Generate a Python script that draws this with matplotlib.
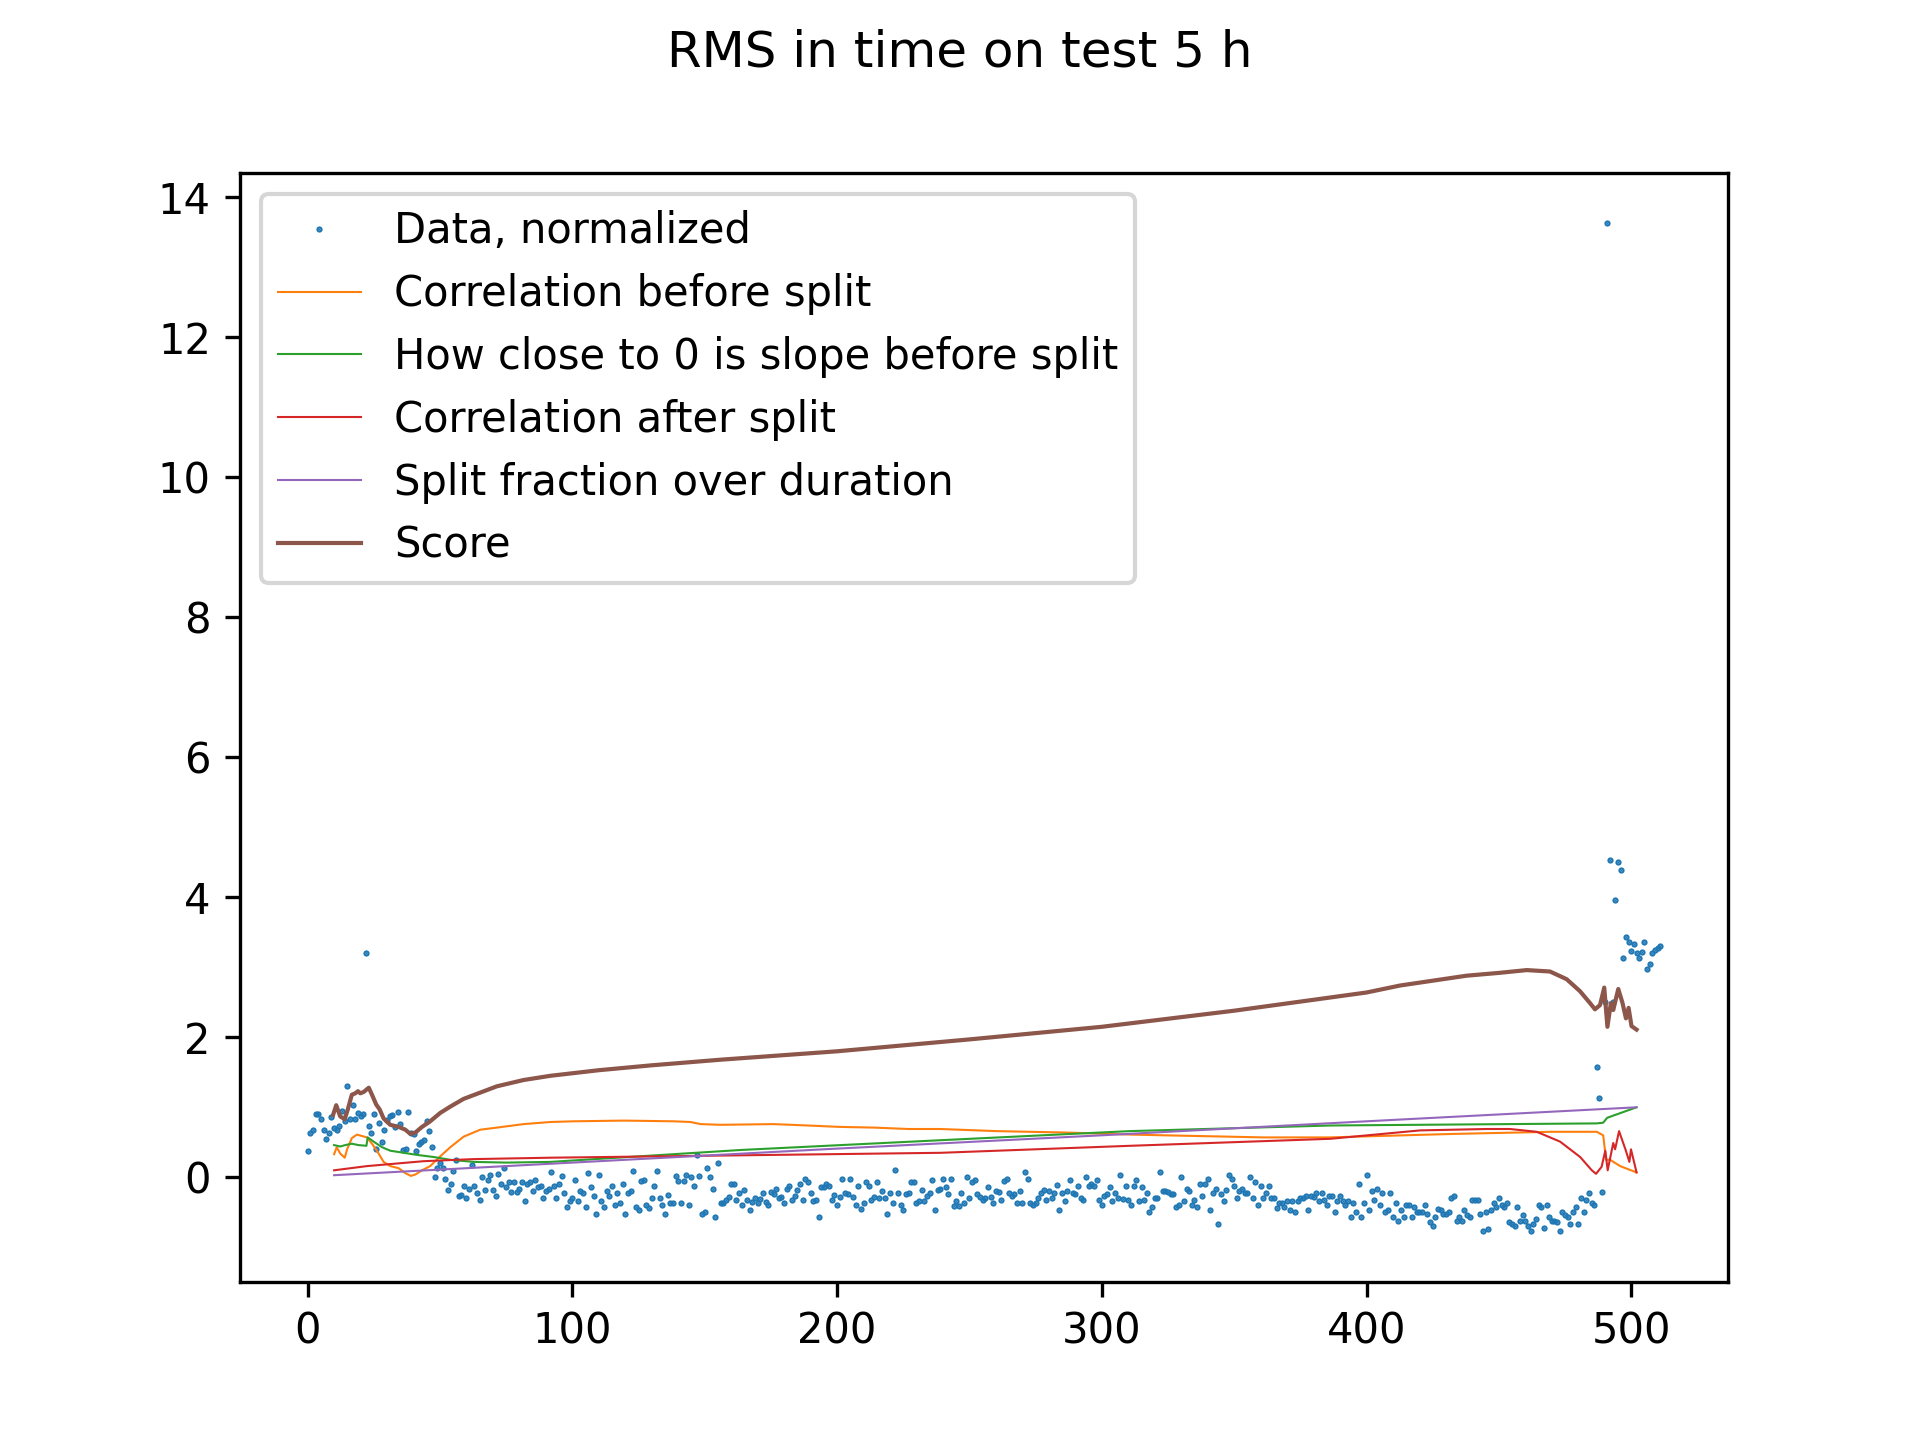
import numpy as np
import matplotlib
matplotlib.use("Agg")
import matplotlib.pyplot as plt

# RMS, normalized, one sample per step
rms_start = [0.38, 0.64, 0.68, 0.90, 0.91, 0.84, 0.68, 0.55, 0.64, 0.86,
             0.70, 0.68, 0.74, 0.95, 0.80, 1.30, 0.84, 1.04, 0.84, 0.92,
             0.87, 0.90, 3.20, 0.74, 0.64, 0.91, 0.40, 0.78, 0.50, 0.67,
             0.82, 0.87, 0.89, 0.72, 0.93, 0.76, 0.39, 0.41, 0.94, 0.63,
             0.62, 0.37, 0.48, 0.51, 0.54, 0.81, 0.66, 0.43, 0.01, 0.13,
             0.20, 0.13, -0.02, -0.18, -0.09, 0.09, 0.25, -0.27, -0.25, -0.12,
             -0.30, -0.17, 0.18, -0.12, -0.22, -0.32, 0.01, -0.18, -0.04, 0.04,
             -0.18, -0.27, 0.05, -0.10, 0.13, -0.14, -0.06, -0.21, -0.07, -0.21,
             -0.16, -0.07, -0.34, -0.10, -0.07, -0.20, -0.04, -0.14]
rms_mid1 = [-0.13, -0.30, -0.20, -0.17, 0.07, -0.13, -0.29, -0.10, 0.02, -0.22,
            -0.42, -0.34, -0.30, -0.04, -0.34, -0.20, -0.23, -0.42, 0.06, -0.14,
            -0.27, -0.52, 0.04, -0.34, -0.42, -0.20, -0.27, -0.13, -0.39, -0.23,
            -0.36, -0.09, -0.53, -0.22, -0.20, 0.09, -0.43, -0.47, -0.05, -0.04,
            -0.39, -0.44, -0.30, -0.12, 0.09, -0.30, -0.39, -0.52, -0.25, -0.37,
            -0.36, 0.02, -0.05, -0.36, -0.05, 0.03, -0.40, 0.00, -0.12, 0.32,
            0.02, -0.52, -0.49, 0.13, 0.00, -0.17, -0.56, 0.20, -0.36, -0.36,
            -0.33, -0.28, -0.10, -0.10, -0.33, -0.22, -0.40, -0.18, -0.32, -0.46,
            -0.35, -0.30, -0.37, -0.31, -0.22, -0.35, -0.39, -0.21, -0.24, -0.17,
            -0.29, -0.28, -0.36, -0.16, -0.13, -0.33, -0.26, -0.18, -0.09, -0.33,
            -0.02, -0.07, -0.23, -0.34, -0.32, -0.56, -0.14, -0.14, -0.10, -0.12,
            -0.32, -0.25, -0.39, -0.28, -0.02, -0.23, -0.24, -0.02, -0.28, -0.40,
            -0.13, -0.45, -0.37, -0.07, -0.12, -0.32, -0.28, -0.07, -0.30, -0.20,
            -0.30, -0.52, -0.22, -0.37, 0.11, -0.22, -0.39, -0.46, -0.24, -0.23,
            -0.07, -0.06, -0.36, -0.34, -0.18, -0.34, -0.26, -0.23, -0.04, -0.47,
            -0.18, -0.16]
rms_mid2 = [-0.02, -0.14, -0.24, -0.02, -0.41, -0.34, -0.41, -0.23, -0.37, 0.00,
            -0.29, -0.06, -0.04, -0.24, -0.28, -0.33, -0.30, -0.14, -0.28, -0.37,
            -0.20, -0.21, -0.32, -0.05, -0.03, -0.22, -0.26, -0.24, -0.37, -0.20,
            -0.36, 0.07, -0.02, -0.36, -0.39, -0.37, -0.29, -0.23, -0.18, -0.32,
            -0.20, -0.29, -0.22, -0.11, -0.46, -0.23, -0.34, -0.20, -0.04, -0.22,
            -0.24, -0.12, -0.29, -0.33, 0.00, -0.12, -0.09, -0.12, -0.04, -0.33,
            -0.40, -0.26, -0.24, -0.14, -0.34, -0.23, -0.30, 0.04, -0.31, -0.12,
            -0.32, -0.39, -0.12, -0.04, -0.34, -0.14, -0.33, -0.23, -0.49, -0.42,
            -0.29, -0.29, 0.07, -0.19, -0.20, -0.21, -0.24, -0.24, -0.43, -0.39,
            0.00, -0.34, -0.16, -0.20, -0.39, -0.33, -0.42, -0.10, -0.27, -0.10,
            -0.02, -0.47, -0.23, -0.17, -0.67, -0.24, -0.34, -0.18, 0.03, -0.02,
            -0.13, -0.30, -0.20, -0.17, -0.23, -0.23, 0.01, -0.29, -0.06, -0.39,
            -0.13, -0.29, -0.22, -0.12, -0.30, -0.30, -0.44, -0.37, -0.37, -0.43,
            -0.34, -0.47, -0.34, -0.50, -0.34, -0.29, -0.29, -0.27, -0.46, -0.27,
            -0.28, -0.22, -0.34, -0.23, -0.32, -0.39, -0.26, -0.26]
rms_late = [-0.50, -0.34, -0.27, -0.34, -0.40, -0.34, -0.57, -0.37,
            -0.49, -0.09, -0.57, -0.37, 0.04, -0.46, -0.19, -0.33, -0.17, -0.39,
            -0.22, -0.49, -0.46, -0.23, -0.57, -0.36, -0.63, -0.46, -0.56, -0.39,
            -0.40, -0.57, -0.42, -0.49, -0.49, -0.49, -0.39, -0.52, -0.64, -0.69,
            -0.57, -0.45, -0.46, -0.53, -0.52, -0.49, -0.30, -0.27, -0.63, -0.56,
            -0.62, -0.47, -0.54, -0.57, -0.33, -0.33, -0.32, -0.53, -0.76, -0.50,
            -0.74, -0.46, -0.37, -0.43, -0.30, -0.40, -0.43, -0.36, -0.64, -0.66,
            -0.69, -0.43, -0.63, -0.54, -0.62, -0.69, -0.77, -0.67, -0.60, -0.39,
            -0.43, -0.73, -0.39, -0.56, -0.63, -0.63, -0.64, -0.77, -0.50, -0.54,
            -0.56, -0.66, -0.50, -0.42, -0.67, -0.29, -0.49, -0.32, -0.23, -0.37,
            -0.39]
rms_end = [1.57, 1.14, -0.21, 2.51, 13.63, 4.53, 2.51, 3.96, 4.51, 4.39,
           3.14, 3.43, 3.36, 3.23, 3.34, 3.21, 3.13, 3.22, 3.36, 2.98,
           3.05, 3.21, 3.25, 3.28, 3.31]
rms = rms_start + rms_mid1 + rms_mid2 + rms_late + rms_end
t = np.arange(len(rms))

# correlation before split
corr_before_x = [10, 11, 12.3, 14, 15, 16.7, 18.6, 20.5, 22.4, 24.7, 26.8, 28.7, 31.2,
                 34.4, 36.9, 39, 40.7, 43.2, 46.3, 50.1, 53.9, 58.9, 65.2, 71.5, 81.6,
                 91.7, 100.5, 119.4, 138.3, 144.6, 148.4, 156, 176, 189, 201, 214, 227,
                 239, 260, 286, 311, 336, 361, 386, 433, 470, 487, 489.4, 490.5, 492,
                 495.8, 502]
corr_before_y = [0.33, 0.43, 0.34, 0.28, 0.41, 0.56, 0.61, 0.59, 0.57, 0.46, 0.34, 0.22, 0.16,
                 0.13, 0.06, 0.02, 0.04, 0.10, 0.16, 0.30, 0.43, 0.58, 0.68, 0.71, 0.76,
                 0.79, 0.80, 0.81, 0.80, 0.79, 0.76, 0.75, 0.76, 0.74, 0.72, 0.71, 0.69,
                 0.69, 0.66, 0.64, 0.61, 0.59, 0.57, 0.57, 0.62, 0.65, 0.65, 0.60, 0.25, 0.25,
                 0.16, 0.07]

# how close to 0 is slope before split
slope_x = [10, 12.3, 14.2, 16.7, 19.2, 22.2, 22.7, 24.9, 28.1, 31.2, 36.3, 41.3, 47.6,
           53.9, 62.7, 75.3, 91.7, 163.5, 239.2, 310.7, 386.3, 486.9, 489.4, 490.9, 502]
slope_y = [0.46, 0.44, 0.46, 0.48, 0.46, 0.45, 0.57, 0.51, 0.43, 0.38, 0.35, 0.32, 0.29,
           0.25, 0.22, 0.21, 0.22, 0.39, 0.53, 0.66, 0.74, 0.77, 0.78, 0.85, 1.0]

# correlation after split
corr_after_x = [10, 22.4, 43.8, 62.7, 91.7, 239.2, 310.7, 386.3, 420.2, 445.4, 454.2, 464.3,
                473.1, 480.7, 485.1, 486.7, 488.8, 490.2, 491.1, 493.2, 493.9, 495.4, 496.4,
                497.8, 499.3, 499.9, 502]
corr_after_y = [0.10, 0.16, 0.23, 0.26, 0.28, 0.35, 0.45, 0.55, 0.67, 0.69, 0.69, 0.65,
                0.51, 0.29, 0.10, 0.05, 0.15, 0.38, 0.10, 0.49, 0.40, 0.66, 0.55,
                0.40, 0.22, 0.40, 0.07]

# split fraction over duration
frac_x = [10, 100, 200, 300, 400, 502]
frac_y = [0.03, 0.21, 0.41, 0.60, 0.80, 1.0]

# score
score_x = [9.6, 10.8, 12.3, 14, 15.1, 16.7, 18, 19, 19.9, 21.2, 23.1, 24.3, 25.9, 27.2,
           28.7, 31.2, 34.4, 36.9, 38.8, 40.7, 43.2, 46.3, 50.1, 53.9, 58.9, 65.2, 71.5,
           81.6, 91.7, 110, 130, 156, 200, 250, 300, 350, 400, 412.7, 437.8, 450, 460.5,
           469.3, 475.6, 480.6, 484.4, 486.3, 488.2, 489.8, 491, 492.3, 493.2, 495.1,
           496.7, 498, 499, 500.1, 502]
score_y = [0.89, 1.03, 0.87, 0.83, 0.96, 1.18, 1.20, 1.23, 1.20, 1.22, 1.28, 1.18, 1.04, 0.97,
           0.84, 0.75, 0.72, 0.68, 0.62, 0.64, 0.72, 0.80, 0.92, 1.01, 1.12, 1.21, 1.30,
           1.39, 1.45, 1.53, 1.60, 1.68, 1.80, 1.97, 2.15, 2.38, 2.64, 2.74, 2.88, 2.92, 2.96,
           2.94, 2.83, 2.66, 2.49, 2.40, 2.46, 2.71, 2.15, 2.49, 2.39, 2.69,
           2.49, 2.27, 2.42, 2.16, 2.11]

fig, ax = plt.subplots(figsize=(6.4, 4.8), dpi=300)
fig.suptitle("RMS in time on test 5 h")

ax.plot(t, rms, '.', markersize=1, label="Data, normalized")
ax.plot(corr_before_x, corr_before_y, linewidth=0.5, label="Correlation before split")
ax.plot(slope_x, slope_y, linewidth=0.5, label="How close to 0 is slope before split")
ax.plot(corr_after_x, corr_after_y, linewidth=0.5, label="Correlation after split")
ax.plot(frac_x, frac_y, linewidth=0.5, label="Split fraction over duration")
ax.plot(score_x, score_y, linewidth=1.0, label="Score")

ax.legend(loc='upper left')

fig.savefig("out.png", dpi=300)
